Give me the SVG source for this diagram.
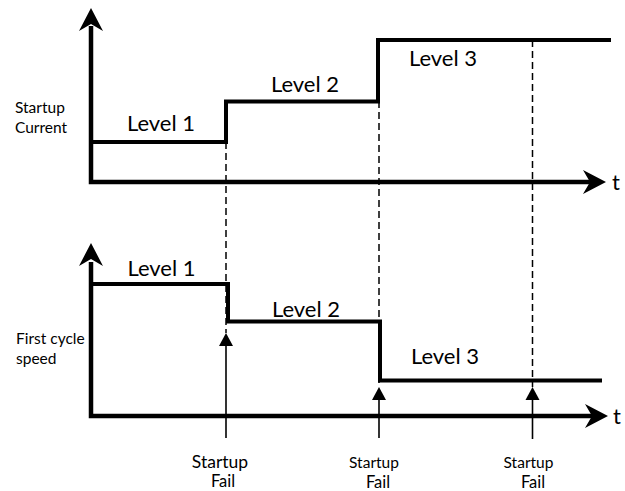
<svg xmlns="http://www.w3.org/2000/svg" width="625" height="491" viewBox="0 0 625 491">
<style>
.ax{fill:none;stroke:#000;stroke-width:4.5;stroke-linejoin:miter}
.st{fill:none;stroke:#000;stroke-width:4;stroke-linejoin:miter}
.dash{fill:none;stroke:#000;stroke-width:1.5;stroke-dasharray:7 4}
.sh{fill:none;stroke:#000;stroke-width:1.6}
.lv{font-family:Lato,"Liberation Sans",sans-serif;font-size:22px;fill:#000;text-anchor:middle}
.lb{font-family:Lato,"Liberation Sans",sans-serif;font-size:15.5px;fill:#000}
.sf{font-family:Lato,"Liberation Sans",sans-serif;font-size:15.5px;fill:#000;text-anchor:middle}
.fl{font-family:Lato,"Liberation Sans",sans-serif;font-size:16.5px;fill:#000;text-anchor:middle}
</style>
<defs>
<path id="ah" d="M0,0 L-23,-12 L-16,0 L-23,12 Z" fill="#000"/>
<path id="sa" d="M0,0 L-7,13 L7,13 Z" fill="#000"/>
</defs>
<rect width="625" height="491" fill="#fff"/>
<g id="top-chart">
<polyline class="ax" points="91,26 91,182 595,182"/>
<use href="#ah" transform="translate(91,8) rotate(-90)"/>
<use href="#ah" transform="translate(606,182)"/>
<polyline class="st" points="91,142 226,142 226,101.5 378,101.5 378,40 611,40"/>
<text class="lv" x="161" y="131">Level 1</text>
<text class="lv" x="305" y="92">Level 2</text>
<text class="lv" x="443" y="66">Level 3</text>
<text class="lb" x="15" y="113">Startup</text>
<text class="lb" x="15" y="133">Current</text>
<text class="lv" x="616" y="190">t</text>
</g>
<g id="bottom-chart">
<polyline class="ax" points="91,262 91,416 597,416"/>
<use href="#ah" transform="translate(91,243) rotate(-90)"/>
<use href="#ah" transform="translate(608,416)"/>
<polyline class="st" points="91,284 228,284 228,321.5 380,321.5 380,380.5 602,380.5"/>
<text class="lv" x="161.5" y="276">Level 1</text>
<text class="lv" x="306" y="317">Level 2</text>
<text class="lv" x="445" y="364">Level 3</text>
<text class="lb" x="16" y="344">First cycle</text>
<text class="lb" x="16" y="364">speed</text>
<text class="lv" x="617" y="424">t</text>
</g>
<g id="connectors">
<line class="dash" x1="226" y1="142" x2="226" y2="333"/>
<line class="dash" x1="379" y1="101" x2="379" y2="387"/>
<line class="dash" x1="532.5" y1="40" x2="532.5" y2="387"/>
<line class="sh" x1="226" y1="345" x2="226" y2="438"/>
<line class="sh" x1="379" y1="399" x2="379" y2="438"/>
<line class="sh" x1="532.5" y1="399" x2="532.5" y2="439"/>
<use href="#sa" transform="translate(226,333)"/>
<use href="#sa" transform="translate(379,387)"/>
<use href="#sa" transform="translate(532.5,387)"/>
</g>
<g id="fail-1">
<text class="sf" x="220" y="467.5" style="font-size:17.5px">Startup</text>
<text class="fl" x="223" y="487">Fail</text>
</g>
<g id="fail-2">
<text class="sf" x="374" y="468">Startup</text>
<text class="fl" x="378" y="488">Fail</text>
</g>
<g id="fail-3">
<text class="sf" x="528.5" y="468">Startup</text>
<text class="fl" x="533" y="488">Fail</text>
</g>
</svg>
